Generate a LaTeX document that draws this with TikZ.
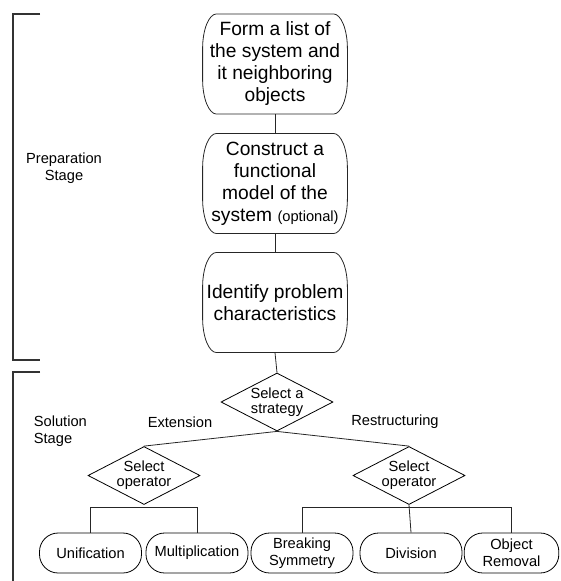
\documentclass[tikz,border=0pt]{standalone}
\usepackage{fontspec}
\setmainfont{Liberation Sans}
\usetikzlibrary{shapes.geometric}

\tikzset{
    stagebox/.style={minimum width=108pt, minimum height=74.5pt, inner sep=0pt, align=center,
        font=\fontsize{14.4}{16.5}\selectfont},
    choice/.style={diamond, draw, aspect=1.95, minimum width=84pt, minimum height=43.5pt,
        inner sep=0pt, align=center, font=\fontsize{11}{11.5}\selectfont},
    leaf/.style={draw, rounded corners=14pt, minimum width=76.5pt, minimum height=30pt,
        inner sep=0pt, align=center, font=\fontsize{11}{13}\selectfont},
    tag/.style={align=center, font=\fontsize{11}{13}\selectfont},
    link/.style={draw=black!85, line width=0.6pt}
}

\begin{document}
\begin{tikzpicture}[x=0.75pt, y=-0.75pt, line width=0.6pt]
    \useasboundingbox (0,0) rectangle (560,581);
    % preparation stage
    \node[stagebox] (list) at (275,64) {Form a list of\\the system and\\it neighboring\\objects};
    \node[stagebox] (model) at (275,183.5) {Construct a\\functional\\model of the\\system {\fontsize{11}{13}\selectfont(optional)}};
    \node[stagebox] (chars) at (275,302.5) {Identify problem\\characteristics};
    \foreach \n in {list,model,chars}
        \draw[link] ([xshift=10.5pt]\n.north west) -- ([xshift=-10.5pt]\n.north east)
            arc[start angle=90, end angle=0, x radius=10.5pt, y radius=26pt]
            -- ([yshift=26pt]\n.south east)
            arc[start angle=0, end angle=-90, x radius=10.5pt, y radius=26pt]
            -- ([xshift=10.5pt]\n.south west)
            arc[start angle=270, end angle=180, x radius=10.5pt, y radius=26pt]
            -- ([yshift=-26pt]\n.north west)
            arc[start angle=180, end angle=90, x radius=10.5pt, y radius=26pt] -- cycle;
    % solution stage
    \node[choice] (strategy) at (277,402) {Select a\\strategy};
    \node[choice] (ext) at (144,475.5) {Select\\operator};
    \node[choice] (res) at (409,475.5) {Select\\operator};
    \node[leaf] (uni) at (90.5,553) {Unification};
    \node[leaf] (mult) at (197,553) {Multiplication};
    \node[leaf] (brk) at (302,553) {Breaking\\Symmetry};
    \node[leaf] (div) at (411,553) {Division};
    \node[leaf, minimum width=71pt] (rem) at (511.5,553) {Object\\Removal};
    % labels
    \node[tag] (prep) at (64,168) {Preparation\\Stage};
    \node[tag, align=left, anchor=west] (sol) at (29,431) {Solution\\Stage};
    \node[tag] (extlab) at (180,422) {Extension};
    \node[tag] (reslab) at (395,422) {Restructuring};
    % connectors
    \draw[link] (list.south) -- (model.north);
    \draw[link] (model.south) -- (chars.north);
    \draw[link] (chars.south) -- (strategy.north);
    \draw[link] (strategy.south) -- (ext.north);
    \draw[link] (strategy.south) -- (res.north);
    \draw[link] (uni.north) |- ([yshift=-1.5pt]ext.south) -| (mult.north);
    \draw[link] (brk.north) |- ([yshift=-1.5pt]res.south) -| (rem.north);
    \draw[link] (res.south) -- (div.north);
    % stage brackets
    \draw[black!80, line width=0.8pt] (40,14) -- (13,14) -- (13,360) -- (40,360);
    \draw[black!80, line width=0.8pt] (40,372) -- (13,372) -- (13,581);
\end{tikzpicture}
\end{document}
